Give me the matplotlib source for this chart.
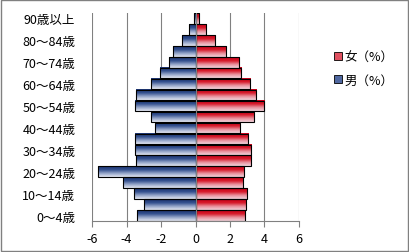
import numpy as np
import matplotlib
matplotlib.use('Agg')
import matplotlib.pyplot as plt
from matplotlib.colors import LinearSegmentedColormap
from matplotlib.patches import Rectangle

plt.rcParams['font.family'] = ['Noto Sans CJK JP', 'DejaVu Sans']

# Age groups (bottom to top)
age_groups = ['0～4歳', '5～9歳', '10～14歳', '15～19歳', '20～24歳', '25～29歳',
              '30～34歳', '35～39歳', '40～44歳', '45～49歳', '50～54歳', '55～59歳',
              '60～64歳', '65～69歳', '70～74歳', '75～79歳', '80～84歳', '85～89歳',
              '90歳以上']
male = [3.37, 2.97, 3.55, 4.19, 5.64, 3.43, 3.49, 3.49, 2.36, 2.56,
        3.49, 3.43, 2.56, 2.03, 1.55, 1.28, 0.76, 0.39, 0.10]
female = [2.88, 2.94, 3.00, 2.77, 2.83, 3.23, 3.23, 3.06, 2.60, 3.40,
          3.98, 3.52, 3.17, 2.65, 2.54, 1.79, 1.15, 0.63, 0.23]
x_ticks = [-6, -4, -2, 0, 2, 4, 6]

# Excel-like gradients: dark at top, light at bottom
red_cmap = LinearSegmentedColormap.from_list('r', ['#f2d4dc', '#e8909c', '#d61a2a', '#c8001a'])
blue_cmap = LinearSegmentedColormap.from_list('b', ['#e4e8f2', '#94a4c8', '#33508e', '#1c3470'])
grad = np.linspace(0, 1, 64).reshape(-1, 1)

fig = plt.figure(figsize=(4.09, 2.53), dpi=100)
ax = fig.add_axes([0.225, 0.1225, 0.506, 0.8225])

y = np.arange(len(age_groups))
h = 0.97

male_bars = ax.barh(y, [-v for v in male], height=h, color='none', edgecolor='black', linewidth=0.8, zorder=3)
female_bars = ax.barh(y, female, height=h, color='none', edgecolor='black', linewidth=0.8, zorder=3)

for bars, cmap in [(male_bars, blue_cmap), (female_bars, red_cmap)]:
    for b in bars:
        x0, y0 = b.get_x(), b.get_y()
        w, hh = b.get_width(), b.get_height()
        ax.imshow(grad, cmap=cmap, aspect='auto', origin='lower',
                  extent=[x0, x0 + w, y0, y0 + hh], zorder=2, interpolation='bilinear')

ax.set_xlim(-6, 6)
ax.set_ylim(-0.5, len(age_groups) - 0.5)
ax.set_xticks(x_ticks)
ax.set_xticklabels([str(t) for t in x_ticks], fontsize=9)
ax.set_yticks(y[::2])
ax.set_yticklabels(age_groups[::2], fontsize=9)
ax.tick_params(axis='y', length=0, pad=12)
ax.tick_params(axis='x', length=4, color='#808080', direction='out', pad=4)
ax.grid(axis='x', color='#808080', linewidth=0.8, zorder=1)
for s in ['top', 'right', 'left']:
    ax.spines[s].set_visible(False)
ax.spines['bottom'].set_color('#808080')
ax.axvline(0, color='#808080', linewidth=0.8, zorder=4)

handles = [Rectangle((0, 0), 1, 1, facecolor='#e05060', edgecolor='black', linewidth=0.6),
           Rectangle((0, 0), 1, 1, facecolor='#5068a0', edgecolor='black', linewidth=0.6)]
fig.legend(handles, ['女（%）', '男（%）'], loc='center left', bbox_to_anchor=(0.79, 0.725),
           frameon=False, fontsize=9, handlelength=0.6, handleheight=0.6,
           handletextpad=0.2, labelspacing=0.8)

fig.patches.append(Rectangle((0.002, 0.003), 0.996, 0.994, transform=fig.transFigure,
                             fill=False, edgecolor='#808080', linewidth=1.0))

fig.savefig('out.png', dpi=100)
